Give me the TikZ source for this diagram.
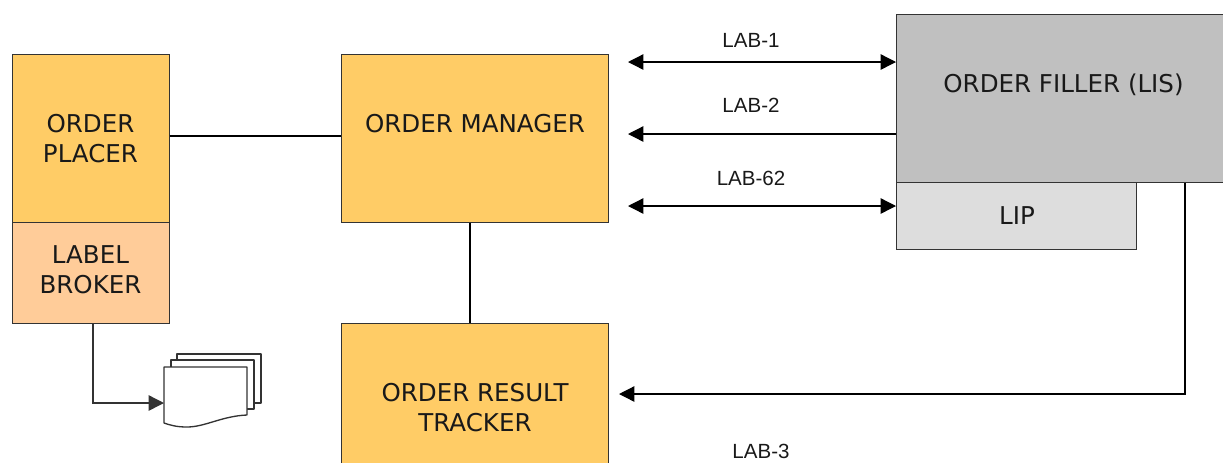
\documentclass[tikz,border=0pt]{standalone}
\usepackage{fontspec}
\setmainfont{DejaVu Sans}
\newfontfamily\labfont{Liberation Sans}
\usetikzlibrary{arrows.meta,positioning}
\definecolor{ordercol}{HTML}{FFCC66}
\definecolor{brokercol}{HTML}{FFCC99}
\definecolor{fillercol}{HTML}{C0C0C0}
\definecolor{lipcol}{HTML}{DDDDDD}
\definecolor{edgecol}{HTML}{333333}
\tikzset{
  x=0.75pt,y=-0.75pt,
  actorbox/.style={draw=edgecol,line width=0.75pt,minimum width=#1*0.75pt,inner sep=0pt,align=center,font=\fontsize{18.4pt}{22.5pt}\selectfont,text=black!90},
  linkline/.style={draw=black,line width=1pt},
  arrowline/.style={linkline,{Triangle[length=11.5pt,width=11.5pt]}-{Triangle[length=11.5pt,width=11.5pt]}},
  arrowone/.style={linkline,-{Triangle[length=11.5pt,width=11.5pt]}},
  lablabel/.style={inner sep=0pt,font=\labfont\fontsize{15.4pt}{16pt}\selectfont,text=black!90},
  sheet/.style={draw=edgecol,line width=1pt,fill=white,line join=round}
}
\begin{document}
\begin{tikzpicture}
\useasboundingbox (0,0) rectangle (1223,462);
\clip (0,0) rectangle (1223,462);
% boxes
\node[actorbox=157,fill=ordercol,minimum height=126pt] (placer) at (90.5,138) {};
\node[actorbox=157,fill=brokercol,minimum height=75.75pt] (broker) at (90.5,272.5) {};
\node[actorbox=267,fill=ordercol,minimum height=126pt] (manager) at (475,138) {};
\node[actorbox=267,fill=ordercol,minimum height=112.5pt] (tracker) at (475,398) {};
\node[actorbox=340,fill=fillercol,minimum height=126pt] (filler) at (1066.5,98) {};
\node[actorbox=240,fill=lipcol,minimum height=50.25pt] (lip) at (1016.5,215.5) {};
% box texts
\node[actorbox=100,draw=none] (placertext) at (90.5,139) {ORDER\\PLACER};
\node[actorbox=100,draw=none] (brokertext) at (90.5,270) {LABEL\\BROKER};
\node[actorbox=240,draw=none] (managertext) at (475,124) {ORDER MANAGER};
\node[actorbox=200,draw=none] (trackertext) at (475,408) {ORDER RESULT\\TRACKER};
\node[actorbox=280,draw=none] (fillertext) at (1063.5,85) {ORDER FILLER (LIS)};
\node[actorbox=80,draw=none] (liptext) at (1017,216) {LIP};
% document stack
\draw[sheet] (177,403) -- (177,354) -- (261,354) -- (261,403) -- cycle;
\draw[sheet] (171,409) -- (171,360) -- (254,360) -- (254,409) -- cycle;
\draw[sheet] (164,423) -- (164,367) -- (247,367) -- (247,415)
  .. controls (222,416) and (205,427) .. (187,427)
  .. controls (176,427) and (170,425) .. (164,423) -- cycle;
\coordinate (stack) at (164,403);
% free ends
\coordinate (m1) at (628,62);
\coordinate (m2) at (628,134);
\coordinate (m3) at (628,206);
\coordinate (t3) at (619,394);
\coordinate (corner) at (1185,394);
\coordinate (brokercorner) at (93,403);
% connectors
\draw[linkline] (placer.east |- 0,136) -- (manager.west |- 0,136);
\draw[linkline] (manager.south -| 470,0) -- (tracker.north -| 470,0);
\draw[arrowline] (m1) -- (m1 -| filler.west);
\draw[arrowone] (m2 -| filler.west) -- (m2);
\draw[arrowline] (m3) -- (m3 -| lip.west);
\draw[arrowone] (filler.south -| corner) -- (corner) -- (t3);
\draw[draw=edgecol,line width=1.1pt,-{Triangle[length=11.5pt,width=11.5pt]}] (broker.south -| brokercorner) -- (brokercorner) -- (stack);
% labels
\node[lablabel] (lab1) at (751,40) {LAB-1};
\node[lablabel] (lab2) at (751,105) {LAB-2};
\node[lablabel] (lab62) at (751,178) {LAB-62};
\node[lablabel] (lab3) at (761,451) {LAB-3};
\end{tikzpicture}
\end{document}
